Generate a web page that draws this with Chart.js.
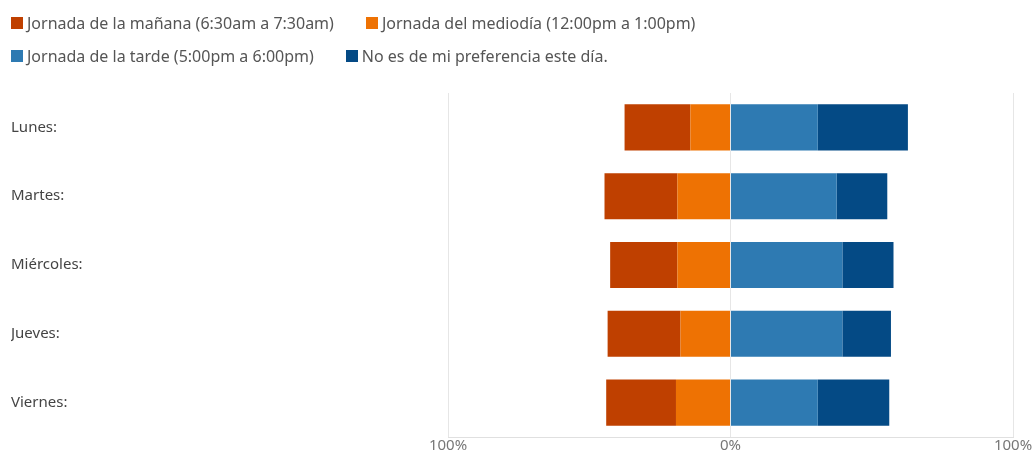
<!DOCTYPE html>
<html lang="es">
<head>
    <meta charset="UTF-8">
    <title>Preferencia de jornada</title>
    <script src="https://cdn.jsdelivr.net/npm/chart.js"></script>
    <style>
        html, body { margin: 0; padding: 0; background: #fff; }
        .wrap { position: relative; width: 1036px; height: 455px; }
        .legend { position: absolute; left: 11px; top: 6px; font-family: "Noto Sans", sans-serif; font-size: 16px; color: #555; }
        .legend .row { height: 33px; display: flex; align-items: center; white-space: nowrap; }
        .legend .item { display: flex; align-items: center; margin-right: 32px; }
        .legend .box { width: 12px; height: 12px; margin-right: 4px; }
    </style>
</head>
<body>
    <div class="wrap">
        <div class="legend" id="leyenda"></div>
        <canvas id="grafico" width="1036" height="455"></canvas>
    </div>

    <script>
        // Datos (porcentaje de respuestas por día)
        const dias = ['Lunes:', 'Martes:', 'Miércoles:', 'Jueves:', 'Viernes:'];
        const series = [
            'Jornada de la mañana (6:30am a 7:30am)',
            'Jornada del mediodía (12:00pm a 1:00pm)',
            'Jornada de la tarde (5:00pm a 6:00pm)',
            'No es de mi preferencia este día.'
        ];
        const colores = ['#BF4000', '#EE7203', '#2E7AB2', '#044A85'];
        const manana = [23.3, 25.8, 23.8, 25.8, 24.7];
        const mediodia = [14.2, 18.8, 18.8, 17.7, 19.3];
        const tarde = [30.9, 37.6, 39.6, 39.6, 30.9];
        const noPref = [31.9, 17.9, 18.1, 17.2, 25.3];
        const ticksX = [-100, 0, 100];

        // Leyenda en dos filas
        const filas = [[0, 1], [2, 3]];
        const leyenda = document.getElementById('leyenda');
        filas.forEach(fila => {
            const r = document.createElement('div');
            r.className = 'row';
            fila.forEach(i => {
                const it = document.createElement('div');
                it.className = 'item';
                it.innerHTML = '<span class="box" style="background:' + colores[i] + '"></span>' + series[i];
                r.appendChild(it);
            });
            leyenda.appendChild(r);
        });

        // Las jornadas de mañana y mediodía van a la izquierda del 0%
        // (mediodía primero para que quede junto al eje)
        const ctx = document.getElementById('grafico').getContext('2d');
        new Chart(ctx, {
            type: 'bar',
            data: {
                labels: dias,
                datasets: [
                    { label: series[1], data: mediodia.map(v => -v), backgroundColor: colores[1] },
                    { label: series[0], data: manana.map(v => -v), backgroundColor: colores[0] },
                    { label: series[2], data: tarde, backgroundColor: colores[2] },
                    { label: series[3], data: noPref, backgroundColor: colores[3] }
                ]
            },
            options: {
                indexAxis: 'y',
                responsive: false,
                animation: false,
                layout: { padding: { top: 93, left: 11, right: 23, bottom: 0 } },
                datasets: { bar: { barPercentage: 0.67, categoryPercentage: 1 } },
                plugins: { legend: { display: false }, tooltip: { enabled: false } },
                scales: {
                    x: {
                        stacked: true,
                        min: -100,
                        max: 100,
                        afterBuildTicks: s => { s.ticks = ticksX.map(v => ({ value: v })); },
                        ticks: {
                            callback: v => Math.abs(v) + '%',
                            color: '#777',
                            padding: 0,
                            font: { family: 'Noto Sans', size: 15 }
                        },
                        grid: { color: '#e6e6e6', drawTicks: false },
                        border: { display: true, color: '#e0e0e0' }
                    },
                    y: {
                        stacked: true,
                        afterFit: s => { s.width = 437; },
                        ticks: {
                            crossAlign: 'far',
                            color: '#444',
                            font: { family: 'Noto Sans', size: 15 }
                        },
                        grid: { display: false },
                        border: { display: false }
                    }
                }
            }
        });
    </script>
</body>
</html>
